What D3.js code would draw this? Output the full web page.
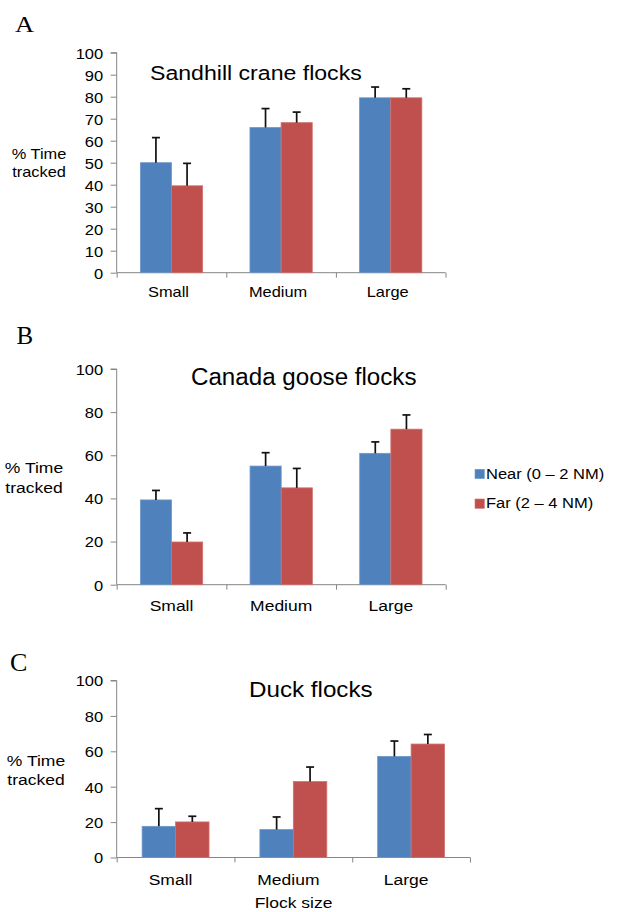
<!DOCTYPE html>
<html>
<head>
<meta charset="utf-8">
<script src="https://cdnjs.cloudflare.com/ajax/libs/d3/7.8.5/d3.min.js"></script>
<style>
  html, body { margin: 0; padding: 0; background: #fff; }
  svg { display: block; }
</style>
</head>
<body>
<svg id="chart" width="623" height="912"></svg>
<script>
// ---------- DATA ----------
const categories = ["Small", "Medium", "Large"];
const seriesNames = ["Near (0 \u2013 2 NM)", "Far (2 \u2013 4 NM)"];

const craneNear = [50.0, 66.0, 79.5];
const craneNearErr = [11.4, 8.6, 4.9];
const craneFar = [39.5, 68.2, 79.5];
const craneFarErr = [10.2, 4.8, 4.1];
const craneTicks = [0, 10, 20, 30, 40, 50, 60, 70, 80, 90, 100];

const gooseNear = [39.3, 55.0, 60.9];
const gooseNearErr = [4.4, 6.2, 5.3];
const gooseFar = [19.8, 44.9, 72.1];
const gooseFarErr = [4.2, 9.0, 6.6];
const gooseTicks = [0, 20, 40, 60, 80, 100];

const duckNear = [17.6, 15.8, 57.1];
const duckNearErr = [10.0, 7.1, 8.7];
const duckFar = [20.1, 42.9, 64.1];
const duckFarErr = [3.2, 8.2, 5.4];
const duckTicks = [0, 20, 40, 60, 80, 100];

const panelTitles = ["Sandhill crane flocks", "Canada goose flocks", "Duck flocks"];
const panelLetters = ["A", "B", "C"];
const yLabelLines = ["% Time", "tracked"];
const xAxisTitle = "Flock size";

// ---------- STYLE ----------
const colors = ["#4F81BD", "#C0504D"];
const strokes = ["#6F97C9", "#D0706D"];
const axisColor = "#868686";
const SANS = "'Liberation Sans', Arial, sans-serif";
const SERIF = "'Liberation Serif', 'Times New Roman', serif";

const svg = d3.select("#chart");
svg.append("rect").attr("width", 623).attr("height", 912).attr("fill", "#fff");

function txt(g, x, y, str, size, anchor, sx, family) {
  return g.append("text")
    .attr("transform", `translate(${x},${y}) scale(${sx},1)`)
    .attr("text-anchor", anchor)
    .attr("font-family", family || SANS)
    .attr("font-size", size)
    .attr("fill", "#000")
    .text(str);
}

const panels = [
  { near: craneNear, nearErr: craneNearErr, far: craneFar, farErr: craneFarErr, ticks: craneTicks,
    x0: 116.7, x1: 445.5, yTop: 52.7, yBot: 272.7,
    tickFont: 15, catFont: 14.5, catY: 296.7, catDx: -3,
    labFont: 14.5, labX: 39, labY: [158.7, 176.7],
    titleFont: 21, titleSx: 1.1, titleX: 150, titleY: 80,
    letterFont: 23, letterSx: 1.15, letterX: 15, letterY: 31.7 },
  { near: gooseNear, nearErr: gooseNearErr, far: gooseFar, farErr: gooseFarErr, ticks: gooseTicks,
    x0: 116.7, x1: 445.7, yTop: 369, yBot: 584.7,
    tickFont: 15, catFont: 15.5, catY: 611, catDx: 0,
    labFont: 15.5, labX: 34, labY: [473.3, 493.3],
    titleFont: 23, titleSx: 1.05, titleX: 191, titleY: 385,
    letterFont: 25, letterSx: 1.0, letterX: 16.5, letterY: 344.3,
    legend: true },
  { near: duckNear, nearErr: duckNearErr, far: duckFar, farErr: duckFarErr, ticks: duckTicks,
    x0: 116.7, x1: 470, yTop: 680.5, yBot: 857.5,
    tickFont: 15, catFont: 15.5, catY: 885, catDx: -5,
    labFont: 15.5, labX: 36, labY: [765.7, 785],
    titleFont: 22, titleSx: 1.1, titleX: 249, titleY: 697.3,
    letterFont: 26, letterSx: 1.0, letterX: 10, letterY: 671,
    xTitle: true }
];

panels.forEach((p, pi) => {
  const g = svg.append("g");

  const y = d3.scaleLinear().domain([0, 100]).range([p.yBot, p.yTop]);
  const xb = d3.scaleBand().domain(categories).range([p.x0, p.x1]).paddingInner(0).paddingOuter(0);
  const xs = d3.scaleBand().domain([0, 1]).range([0, xb.bandwidth()]).paddingInner(0).paddingOuter(0.76);

  // y axis
  const ya = g.append("g").attr("transform", `translate(${p.x0},0)`)
    .call(d3.axisLeft(y).tickValues(p.ticks).tickSize(6).tickPadding(7).tickFormat(d3.format("d")));
  ya.select(".domain").attr("stroke", axisColor).attr("d", `M-6,${p.yTop}H0V${p.yBot}`);
  ya.selectAll(".tick line").attr("stroke", axisColor);
  ya.selectAll(".tick text")
    .attr("x", null).attr("dy", "0.36em")
    .attr("transform", `translate(-13.5,0) scale(1.1,1)`)
    .attr("font-family", SANS).attr("font-size", p.tickFont).attr("fill", "#000");

  // x axis (category boundaries as ticks)
  const idx = d3.scaleLinear().domain([0, categories.length]).range([p.x0, p.x1]);
  const xa = g.append("g").attr("transform", `translate(0,${p.yBot})`)
    .call(d3.axisBottom(idx).tickValues(d3.range(categories.length + 1)).tickSize(5).tickFormat(""));
  xa.select(".domain").attr("stroke", axisColor).attr("d", `M${p.x0},0H${p.x1}`);
  xa.selectAll(".tick line").attr("stroke", axisColor);

  categories.forEach((c) => {
    txt(g, xb(c) + xb.bandwidth() / 2 + p.catDx, p.catY, c, p.catFont, "middle", 1.13);
  });

  // bars
  const seriesData = [[p.near, p.nearErr], [p.far, p.farErr]];
  seriesData.forEach(([vals, errs], si) => {
    const bars = g.append("g");
    bars.selectAll("rect").data(categories).join("rect")
      .attr("x", (c) => xb(c) + xs(si))
      .attr("y", (c, i) => y(vals[i]))
      .attr("width", xs.bandwidth())
      .attr("height", (c, i) => y(0) - y(vals[i]))
      .attr("fill", colors[si])
      .attr("stroke", strokes[si])
      .attr("stroke-width", 0.8);

    const eb = g.append("g").attr("stroke", "#111").attr("stroke-width", 1.7);
    categories.forEach((c, i) => {
      const cx = xb(c) + xs(si) + xs.bandwidth() / 2;
      const yv = y(vals[i]);
      const ye = y(vals[i] + errs[i]);
      eb.append("line").attr("x1", cx).attr("x2", cx).attr("y1", yv).attr("y2", ye);
      eb.append("line").attr("x1", cx - 4).attr("x2", cx + 4).attr("y1", ye).attr("y2", ye);
    });
  });

  // y label
  yLabelLines.forEach((line, li) => {
    txt(g, p.labX, p.labY[li], line, p.labFont, "middle", 1.13);
  });

  // title
  txt(g, p.titleX, p.titleY, panelTitles[pi], p.titleFont, "start", p.titleSx);

  // panel letter
  txt(g, p.letterX, p.letterY, panelLetters[pi], p.letterFont, "start", p.letterSx, SERIF);

  // legend
  if (p.legend) {
    const lg = g.append("g");
    const ly = [469.3, 499];
    seriesNames.forEach((s, si) => {
      lg.append("rect").attr("x", 475).attr("y", ly[si]).attr("width", 9.3).attr("height", 9.3)
        .attr("fill", colors[si]).attr("stroke", strokes[si]).attr("stroke-width", 0.6);
      txt(lg, 486, ly[si] + 9.3, s, 15, "start", 1.1);
    });
  }

  if (p.xTitle) {
    txt(g, 293.5, 908, xAxisTitle, 15.5, "middle", 1.13);
  }
});
</script>
</body>
</html>
